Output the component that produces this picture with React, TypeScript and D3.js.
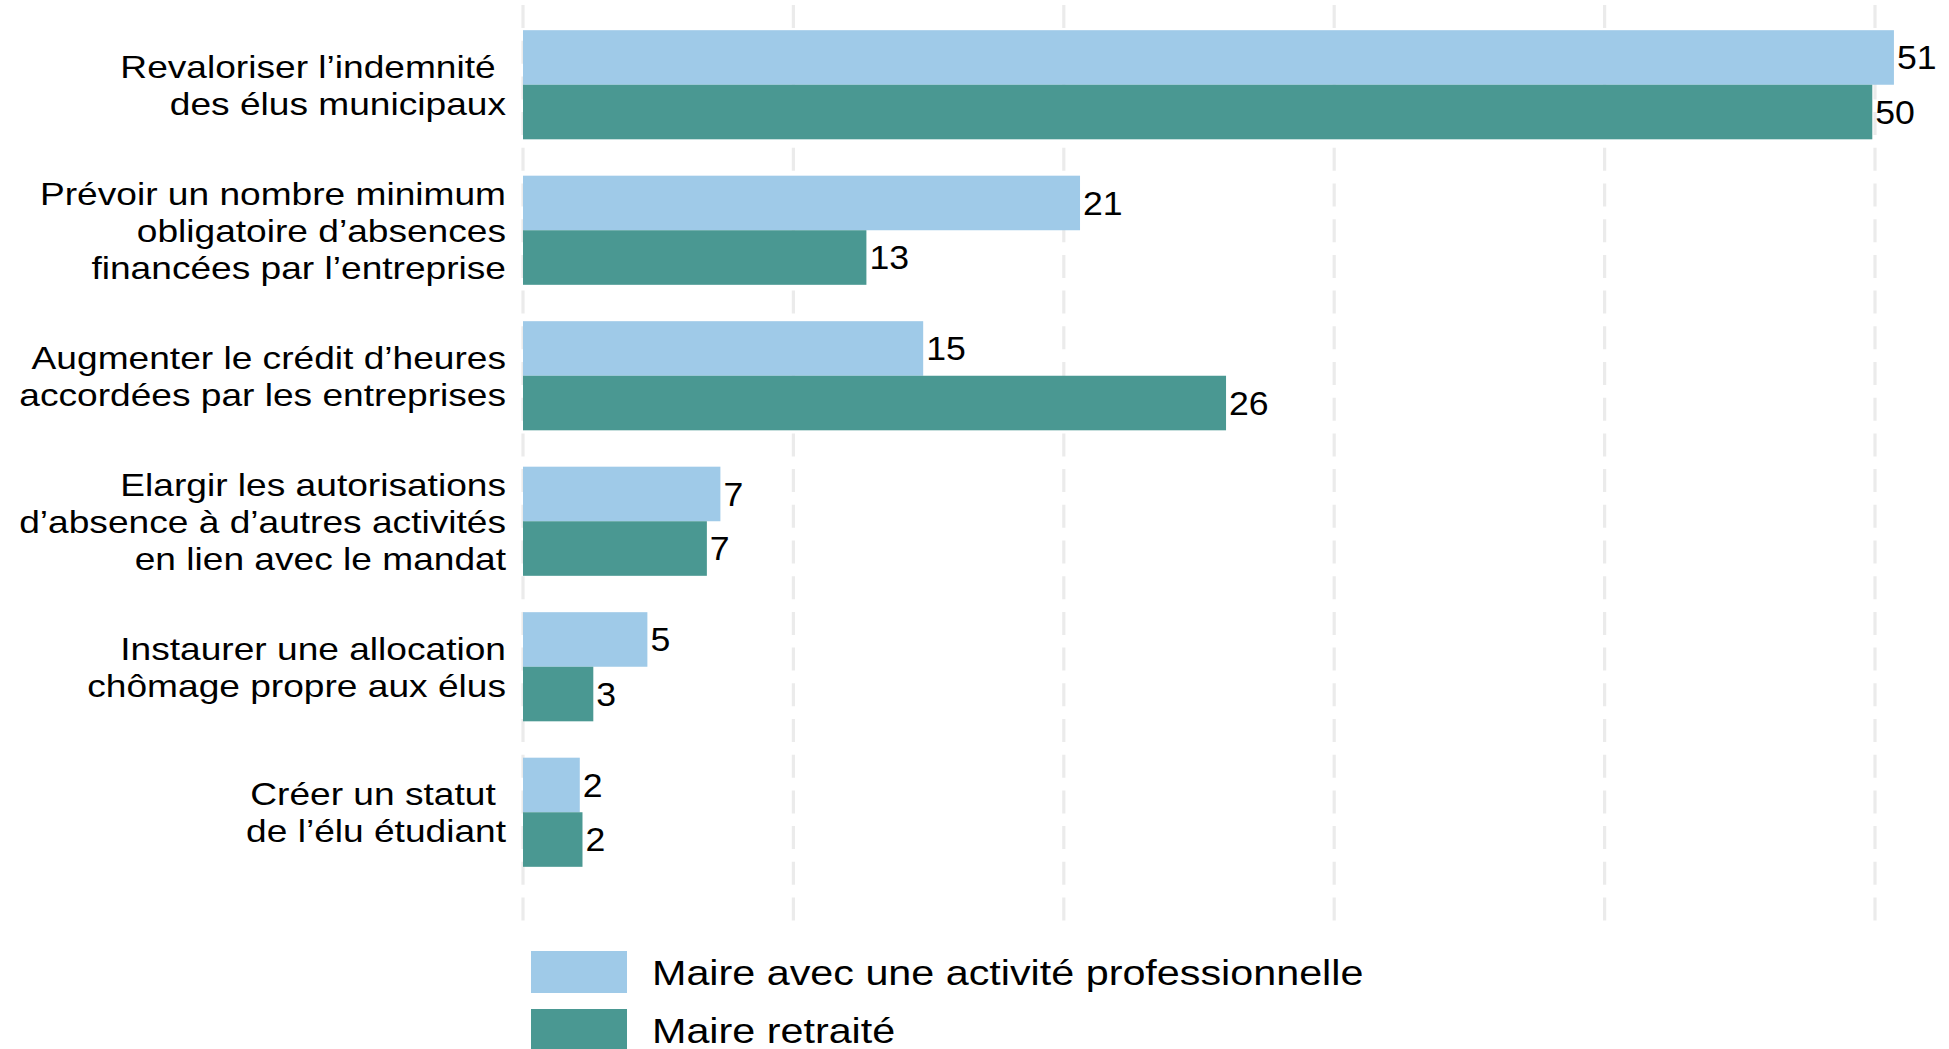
import * as React from "react";
import { scaleBand, scaleLinear } from "d3";

// categories (multi-line labels, top to bottom)
const categories = [
  ["Revaloriser l’indemnité ", "des élus municipaux"],
  ["Prévoir un nombre minimum", "obligatoire d’absences", "financées par l’entreprise"],
  ["Augmenter le crédit d’heures", "accordées par les entreprises"],
  ["Elargir les autorisations", "d’absence à d’autres activités", "en lien avec le mandat"],
  ["Instaurer une allocation", "chômage propre aux élus"],
  ["Créer un statut ", "de l’élu étudiant"],
];

const seriesNames = ["Maire avec une activité professionnelle", "Maire retraité"];
const seriesColors = ["#9fcae8", "#4a9892"];

// values (labels show them rounded)
const actifValues = [50.7, 20.6, 14.8, 7.3, 4.6, 2.1];
const retraiteValues = [49.9, 12.7, 26.0, 6.8, 2.6, 2.2];

const W = 1949;
const H = 1049;

export default function App() {
  const keys = categories.map((_, i) => `${i}`);

  const xScale = scaleLinear().domain([0, 50]).range([523, 1875]);

  const yScale = scaleBand()
    .domain(keys)
    .range([12, 885])
    .paddingInner(0.25)
    .paddingOuter(0.125);

  const inner = scaleBand()
    .domain(seriesNames)
    .range([0, yScale.bandwidth()]);

  const series = [actifValues, retraiteValues];

  const labelSize = 32;
  const lineGap = 37;
  const labelCap = labelSize * 0.716;
  const valueSize = 33;

  // the reference text is a bit wider than plain Arial, so each text gets an x-stretch
  const txt = (x: number, y: number, s: string, size: number, anchor: string, sx: number, key?: any) => (
    <text
      key={key}
      transform={`translate(${x},${y}) scale(${sx},1)`}
      fontSize={size}
      textAnchor={anchor}
      fill="#000"
      style={{ whiteSpace: "pre" }}
    >
      {s}
    </text>
  );

  return (
    <svg
      width={W}
      height={H}
      style={{ position: "absolute", left: 0, top: 0, background: "#fff" }}
      fontFamily="'Liberation Sans', Arial, sans-serif"
    >
      {/* grid */}
      {xScale.ticks(5).map((t) => (
        <line
          key={t}
          x1={xScale(t)}
          x2={xScale(t)}
          y1={5}
          y2={921}
          stroke="#ebebeb"
          strokeWidth={3.2}
          strokeDasharray="23 12.7"
        />
      ))}

      {/* bars */}
      {keys.map((k, i) => (
        <g key={k} transform={`translate(0,${yScale(k)})`}>
          {series.map((vals, j) => {
            const v = vals[i];
            const y0 = inner(seriesNames[j]) as number;
            const bh = inner.bandwidth();
            return (
              <g key={j}>
                <rect
                  x={xScale(0)}
                  y={y0}
                  width={xScale(v) - xScale(0)}
                  height={bh}
                  fill={seriesColors[j]}
                />
                {txt(xScale(v) + 3, y0 + bh / 2 + valueSize * 0.716 / 2, `${Math.round(v)}`, valueSize, "start", 1.08)}
              </g>
            );
          })}
        </g>
      ))}

      {/* category labels */}
      {categories.map((lines, i) => {
        const c = (yScale(keys[i]) as number) + yScale.bandwidth() / 2;
        return (
          <g key={i}>
            {lines.map((s, li) =>
              txt(506, c + labelCap / 2 + (li - (lines.length - 1) / 2) * lineGap, s, labelSize, "end", 1.16, li)
            )}
          </g>
        );
      })}

      {/* legend */}
      {seriesNames.map((s, j) => (
        <g key={s}>
          <rect x={531} y={951 + j * 58} width={96} height={42} fill={seriesColors[j]} />
          {txt(652, 985 + j * 58, s, 35, "start", 1.18)}
        </g>
      ))}
    </svg>
  );
}
